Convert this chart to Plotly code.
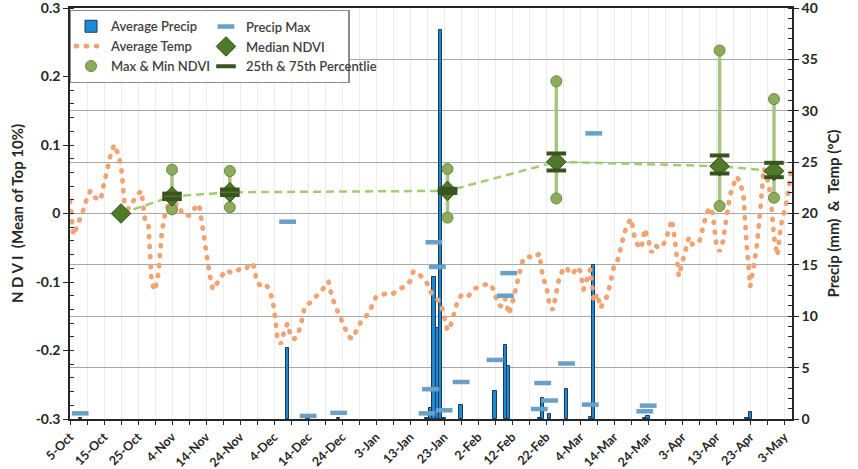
import plotly.graph_objects as go
import pandas as pd

# ---------------- data ----------------
start_date = "2018-10-05"
avg_temp = [21.2, 17.9, 18.7, 19.5, 20.4, 21.5, 22.2, 21.6, 21.4, 21.3,
            22.9, 24.5, 25.8, 26.7, 25.9, 24.7, 21.1, 20.4, 20.9, 21.5,
            21.9, 22.2, 19.5, 19.2, 13.3, 12.5, 14.2, 18.2, 20.1, 20.9,
            21.0, 20.9, 20.9, 19.9, 19.8, 19.8, 20.3, 20.6, 20.9, 18.6,
            16.0, 14.2, 12.6, 13.2, 13.6, 14.1, 14.5, 14.3, 14.2, 14.4,
            14.6, 14.8, 14.7, 15.2, 14.9, 13.3, 13.0, 13.2, 12.9, 12.2,
            10.8, 7.8, 7.3, 8.6, 9.3, 7.9, 7.8, 8.2, 9.3, 10.9,
            11.2, 11.4, 11.8, 12.1, 12.5, 12.9, 13.4, 11.9, 10.9, 10.2,
            9.5, 8.6, 8.0, 7.8, 8.4, 9.2, 9.75, 10.0, 10.4, 11.2,
            11.9, 12.05, 12.1, 12.2, 12.1, 12.2, 12.5, 12.65, 12.8, 13.0,
            13.4, 14.4, 14.2, 14.0, 13.7, 13.2, 12.4, 12.0, 11.7, 11.3,
            10.0, 8.6, 9.2, 10.4, 11.5, 12.0, 12.1, 11.9, 12.3, 12.7,
            12.8, 12.9, 13.1, 13.2, 13.0, 12.2, 11.1, 10.95, 11.7, 10.2,
            11.2, 12.6, 14.2, 15.3, 15.8, 15.8, 15.65, 15.8, 16.1, 13.8,
            13.0, 11.1, 10.6, 12.3, 14.0, 14.5, 14.8, 14.1, 14.2, 14.8,
            14.4, 12.6, 13.7, 14.6, 11.4, 12.2, 10.8, 11.3, 12.0, 13.4,
            15.0, 15.4, 17.0, 18.1, 19.0, 19.5, 17.7, 16.9, 16.6, 18.5,
            17.5, 16.2, 16.9, 16.7, 16.7, 17.3, 18.3, 19.4, 17.0, 13.9,
            15.2, 16.6, 17.7, 17.0, 17.0, 17.2, 18.6, 19.8, 20.6, 20.0,
            17.1, 16.3, 17.3, 19.9, 21.7, 22.7, 23.6, 23.1, 21.8, 16.8,
            12.9, 14.8, 17.0, 20.5, 24.4, 23.5, 21.8, 17.7, 15.9, 18.8,
            20.1, 21.6, 24.2]
temp_dates = pd.date_range(start_date, periods=len(avg_temp), freq="D")

precip_dates = ["2018-10-08", "2018-12-08", "2018-12-14", "2018-12-23",
                "2019-01-18", "2019-01-19", "2019-01-20", "2019-01-21",
                "2019-01-22", "2019-01-23", "2019-01-28", "2019-02-07",
                "2019-02-10", "2019-02-11", "2019-02-20", "2019-02-21",
                "2019-02-23", "2019-02-28", "2019-03-07", "2019-03-08",
                "2019-03-23", "2019-03-24", "2019-04-22", "2019-04-23"]
avg_precip = [0.1, 6.95, 0.05, 0.1,
              0.1, 1.1, 13.8, 8.9,
              37.9, 0.1, 1.4, 2.7,
              7.2, 5.2, 0.05, 2.0,
              0.45, 2.95, 0.2, 15.0,
              0.1, 0.3, 0.1, 0.65]

pmax_dates = ["2018-10-08", "2018-12-08", "2018-12-14", "2018-12-23",
              "2019-01-18", "2019-01-19", "2019-01-20", "2019-01-21",
              "2019-01-23", "2019-01-28", "2019-02-07", "2019-02-10",
              "2019-02-11", "2019-02-20", "2019-02-21", "2019-02-23",
              "2019-02-28", "2019-03-07", "2019-03-08", "2019-03-23",
              "2019-03-24"]
precip_max = [0.55, 19.2, 0.3, 0.6,
              0.55, 2.9, 17.2, 14.8,
              0.85, 3.6, 5.75, 12.0,
              14.2, 0.97, 3.5, 1.8,
              5.4, 1.4, 27.8, 0.75,
              1.3]

ndvi_dates = ["2018-10-20", "2018-11-04", "2018-11-21", "2019-01-24",
              "2019-02-25", "2019-04-14", "2019-04-30"]
ndvi_median = [0.0, 0.025, 0.031, 0.033, 0.0755, 0.069, 0.062]
ndvi_max = [None, 0.064, 0.062, 0.065, 0.193, 0.238, 0.167]
ndvi_min = [None, 0.006, 0.009, -0.006, 0.022, 0.011, 0.023]
ndvi_p75 = [None, 0.029, 0.035, 0.036, 0.0876, 0.0847, 0.074]
ndvi_p25 = [None, 0.021, 0.027, 0.030, 0.0628, 0.0584, 0.053]

x_tick_text = ["5-Oct", "15-Oct", "25-Oct", "4-Nov", "14-Nov", "24-Nov",
               "4-Dec", "14-Dec", "24-Dec", "3-Jan", "13-Jan", "23-Jan",
               "2-Feb", "12-Feb", "22-Feb", "4-Mar", "14-Mar", "24-Mar",
               "3-Apr", "13-Apr", "23-Apr", "3-May"]
x_tick_vals = pd.date_range(start_date, periods=len(x_tick_text), freq="10D")

ndvi_ticks = [-0.3, -0.2, -0.1, 0, 0.1, 0.2, 0.3]
ndvi_tick_text = ["-0.3", "-0.2", "-0.1", "0", "0.1", "0.2", "0.3"]
right_ticks = [0, 5, 10, 15, 20, 25, 30, 35, 40]
right_tick_text = [str(v) for v in right_ticks]

# ---------------- styling ----------------
FONT = "Lato"
TXT = "#262626"
DAY_MS = 86400000

fig = go.Figure()

fig.add_trace(go.Bar(
    x=precip_dates, y=avg_precip, name="Average Precip", yaxis="y",
    width=1.0 * DAY_MS,
    marker=dict(color="#1C8BD3", line=dict(color="#1d3a56", width=1)),
    legend="legend"))

fig.add_trace(go.Scatter(
    x=temp_dates, y=avg_temp, name="Average Temp", mode="lines", yaxis="y",
    line=dict(color="#F0A474", width=4.8, dash="1px,9px"),
    legend="legend"))

fig.add_trace(go.Scatter(
    x=pmax_dates, y=precip_max, name="Precip Max", mode="markers", yaxis="y",
    marker=dict(symbol="line-ew", size=12,
                line=dict(color="#6A9FC6", width=4.5)),
    legend="legend2"))

seg_x, seg_y = [], []
for d, lo, hi in zip(ndvi_dates, ndvi_min, ndvi_max):
    if lo is None:
        continue
    seg_x += [d, d, None]
    seg_y += [lo, hi, None]
fig.add_trace(go.Scatter(
    x=seg_x, y=seg_y, mode="lines", yaxis="y2", showlegend=False,
    line=dict(color="#A9C47E", width=3.5), hoverinfo="skip"))

fig.add_trace(go.Scatter(
    x=ndvi_dates, y=ndvi_median, mode="lines", yaxis="y2", showlegend=False,
    line=dict(color="#9FCD70", width=2.5, dash="8px,5px"), hoverinfo="skip"))

mm_x = [d for d, v in zip(ndvi_dates, ndvi_max) if v is not None] + \
       [d for d, v in zip(ndvi_dates, ndvi_min) if v is not None]
mm_y = [v for v in ndvi_max if v is not None] + [v for v in ndvi_min if v is not None]
fig.add_trace(go.Scatter(
    x=mm_x, y=mm_y, name="Max & Min NDVI", mode="markers", yaxis="y2",
    marker=dict(symbol="circle", size=11, color="#8DAB5C",
                line=dict(color="#6B8A3F", width=1)),
    legend="legend"))

fig.add_trace(go.Scatter(
    x=ndvi_dates, y=ndvi_median, name="Median NDVI", mode="markers", yaxis="y2",
    marker=dict(symbol="diamond", size=15, color="#4E7A29",
                line=dict(color="#2E4A15", width=1)),
    legend="legend2"))

pc_x = [d for d, v in zip(ndvi_dates, ndvi_p25) if v is not None] + \
       [d for d, v in zip(ndvi_dates, ndvi_p75) if v is not None]
pc_y = [v for v in ndvi_p25 if v is not None] + [v for v in ndvi_p75 if v is not None]
fig.add_trace(go.Scatter(
    x=pc_x, y=pc_y, name="25th & 75th Percentlie", mode="markers", yaxis="y2",
    marker=dict(symbol="line-ew", size=14,
                line=dict(color="#3A5220", width=4)),
    legend="legend2"))

W, H = 858, 469
ml, mr, mt, mb = 70, 66, 8, 50
pw = W - ml - mr
ph = H - mt - mb

def px_x(p):
    return (p - ml) / pw

def px_y(p):
    return (H - mb - p) / ph

leg_font = dict(family=FONT, size=13, color="#404040", weight=600)
BW = 1.3
LEG_TOP = 10

fig.update_layout(
    width=W, height=H,
    margin=dict(l=ml, r=mr, t=mt, b=mb, pad=0, autoexpand=False),
    paper_bgcolor="white", plot_bgcolor="white",
    font=dict(family=FONT, color=TXT),
    bargap=0,
    xaxis=dict(
        type="date", automargin=False, ticklabeloverflow="allow",
        range=["2018-10-05", "2019-05-05 07:00"],
        tickmode="array", tickvals=x_tick_vals, ticktext=x_tick_text,
        tickangle=-45,
        tickfont=dict(family=FONT, size=12.5, color=TXT, weight="bold"),
        ticks="outside", ticklen=4, tickcolor="#262626", tickwidth=1.3,
        showline=True, linecolor="#262626", linewidth=1.5, mirror=True,
        showgrid=True, gridcolor="#EDEDED", gridwidth=1,
        minor=dict(tickmode="linear", tick0=start_date, dtick=5 * DAY_MS,
                   ticks="outside", ticklen=4, tickcolor="#262626",
                   showgrid=True, gridcolor="#EDEDED"),
        zeroline=False,
    ),
    yaxis=dict(
        side="right", range=[0, 40], automargin=False,
        ticklabeloverflow="allow",
        tickmode="array", tickvals=right_ticks, ticktext=right_tick_text,
        tickfont=dict(family=FONT, size=14, color=TXT, weight="bold"),
        ticks="outside", ticklen=5, tickcolor="#262626",
        minor=dict(tickmode="linear", tick0=0, dtick=1, ticks="inside",
                   ticklen=4, tickcolor="#262626", showgrid=False),
        showline=True, linecolor="#262626", linewidth=1.5,
        showgrid=True, gridcolor="#A8A8A8", gridwidth=1,
        zeroline=False,
        title=dict(text="Precip (mm)  &  Temp (ºC)",
                   font=dict(family=FONT, size=15, color=TXT, weight="bold"),
                   standoff=12),
    ),
    yaxis2=dict(
        overlaying="y", side="left", range=[-0.3, 0.3], automargin=False,
        ticklabeloverflow="allow",
        tickmode="array", tickvals=ndvi_ticks, ticktext=ndvi_tick_text,
        tickfont=dict(family=FONT, size=14, color=TXT, weight="bold"),
        ticks="outside", ticklen=5, tickcolor="#262626",
        minor=dict(tickmode="linear", tick0=0, dtick=0.02, ticks="inside",
                   ticklen=4, tickcolor="#262626", showgrid=False),
        showline=True, linecolor="#262626", linewidth=1.5,
        showgrid=False, zeroline=False,
        title=dict(text="N D V I  (Mean of Top 10%)",
                   font=dict(family=FONT, size=15, color=TXT, weight="bold"),
                   standoff=8),
    ),
    # left column: horizontal legend placed just left of x=0 so that its
    # wrap width is half the page -> one entry per row, box spans both columns
    legend=dict(orientation="h", x=-0.0004, y=px_y(LEG_TOP),
                xanchor="left", yanchor="top", entrywidth=232,
                bgcolor="white", bordercolor="#8C8C8C", borderwidth=BW,
                font=leg_font, tracegroupgap=0),
    legend2=dict(x=px_x(206), y=px_y(LEG_TOP + BW + 0.3), xanchor="left",
                 yanchor="top", bgcolor="rgba(255,255,255,0)", borderwidth=0,
                 font=leg_font, tracegroupgap=0),
    showlegend=True,
)

post = """
var gd = document.getElementById('{plot_id}');
function rc(){
  gd.querySelectorAll('path').forEach(function(p){
    var d = (p.style.strokeDasharray || p.getAttribute('stroke-dasharray') || '').replace(/\\s/g,'');
    if (d === '1px,9px') { p.style.strokeLinecap = 'round'; }
  });
}
rc();
gd.on('plotly_afterplot', rc);
"""

fig.write_html("out.html", post_script=post)
